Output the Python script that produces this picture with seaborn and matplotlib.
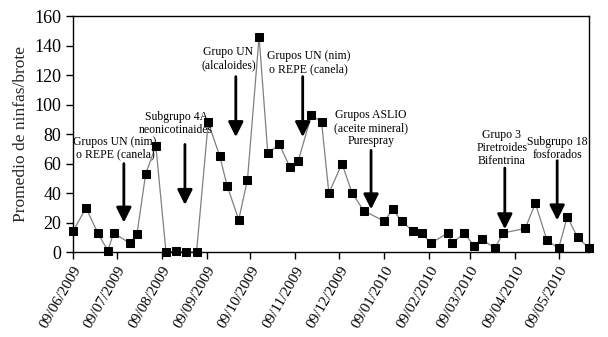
import pandas as pd
import seaborn as sns
import matplotlib.pyplot as plt

# datos: fecha de muestreo y promedio de ninfas por brote
fechas = ["2009-06-09", "2009-06-18", "2009-06-26", "2009-07-03", "2009-07-07",
          "2009-07-18", "2009-07-23", "2009-07-29", "2009-08-05", "2009-08-12",
          "2009-08-19", "2009-08-26", "2009-09-02", "2009-09-10", "2009-09-18",
          "2009-09-23", "2009-10-01", "2009-10-07", "2009-10-15", "2009-10-21",
          "2009-10-29", "2009-11-05", "2009-11-11", "2009-11-20", "2009-11-27",
          "2009-12-02", "2009-12-11", "2009-12-18", "2009-12-26", "2010-01-09",
          "2010-01-15", "2010-01-21", "2010-01-29", "2010-02-04", "2010-02-10",
          "2010-02-22", "2010-02-25", "2010-03-05", "2010-03-12", "2010-03-17",
          "2010-03-26", "2010-04-01", "2010-04-16", "2010-04-23", "2010-05-01",
          "2010-05-09", "2010-05-15", "2010-05-22", "2010-05-30"]
ninfas = [14, 30, 13, 1, 13,
          6, 12, 53, 72, 0,
          0.5, 0, 0, 88, 65,
          45, 22, 49, 146, 67,
          73, 58, 62, 93, 88,
          40, 60, 40, 28, 21,
          29, 21, 14, 13, 6,
          13, 6, 13, 4, 9,
          2.5, 13, 16, 33, 8,
          2.5, 24, 10, 2.5]

tick_fechas = ["2009-06-09", "2009-07-09", "2009-08-09", "2009-09-09", "2009-10-09",
               "2009-11-09", "2009-12-09", "2010-01-09", "2010-02-09", "2010-03-09",
               "2010-04-09", "2010-05-09"]
tick_labels = ["09/06/2009", "09/07/2009", "09/08/2009", "09/09/2009", "09/10/2009",
               "09/11/2009", "09/12/2009", "09/01/2010", "09/02/2010", "09/03/2010",
               "09/04/2010", "09/05/2010"]

# aplicaciones (texto, fecha flecha, y texto, y inicio flecha, y punta flecha)
textos = ["Grupos UN (nim)\no REPE (canela)", "Subgrupo 4A\nneonicotinaides",
          "Grupo UN\n(alcaloides)", "Grupos UN (nim)\no REPE (canela)",
          "Grupos ASLIO\n(aceite mineral)\nPurespray", "Grupo 3\nPiretroides\nBifentrina",
          "Subgrupo 18\nfosforados"]
texto_fecha = ["2009-07-08", "2009-08-19", "2009-09-24", "2009-11-18",
               "2009-12-31", "2010-03-31", "2010-05-08"]
texto_y = [70.5, 87.5, 131, 128.5, 84, 70.5, 70]
flecha_fecha = ["2009-07-14", "2009-08-25", "2009-09-29", "2009-11-14",
                "2009-12-31", "2010-04-02", "2010-05-08"]
flecha_ini = [60, 73, 119, 119, 69, 57, 62]
flecha_fin = [20, 32, 78, 78, 29, 15.5, 21.5]

df = pd.DataFrame({"fecha": pd.to_datetime(fechas), "ninfas": ninfas})

sns.set_style('ticks')
plt.rcParams['font.family'] = ['Liberation Serif', 'DejaVu Serif']

fig = plt.figure(figsize=(6.08, 3.37), dpi=100)
ax = fig.add_axes([0.12, 0.252, 0.849, 0.7])

sns.lineplot(data=df, x="fecha", y="ninfas", ax=ax, color='#808080', linewidth=0.9,
             marker='s', markersize=5.5, markerfacecolor='black',
             markeredgecolor='black', clip_on=False)

for t, tf, ty, ff, y0, y1 in zip(textos, texto_fecha, texto_y, flecha_fecha,
                                 flecha_ini, flecha_fin):
    ax.annotate("", xy=(pd.Timestamp(ff), y1), xytext=(pd.Timestamp(ff), y0),
                arrowprops=dict(arrowstyle='-|>,head_length=0.9,head_width=0.45',
                                color='black', lw=2, shrinkA=0, shrinkB=0))
    ax.text(pd.Timestamp(tf), ty, t, ha='center', va='center', fontsize=8.5,
            linespacing=1.1, color='black')

ax.set_xlim(pd.Timestamp("2009-06-09"), pd.Timestamp("2010-05-30"))
ax.set_ylim(0, 160)
ax.set_yticks(range(0, 161, 20))
ax.set_xticks(pd.to_datetime(tick_fechas))
ax.set_xticklabels(tick_labels, rotation=60, ha='right', rotation_mode='anchor',
                   fontsize=11)
ax.tick_params(axis='y', labelsize=13, length=5, width=1, colors='black')
ax.tick_params(axis='x', length=5, width=1, colors='black')
ax.set_xlabel("")
ax.set_ylabel("Promedio de ninfas/brote", fontsize=12.5)
for s in ax.spines.values():
    s.set_color('black')
    s.set_linewidth(1)

plt.savefig("out.png", dpi=100)
